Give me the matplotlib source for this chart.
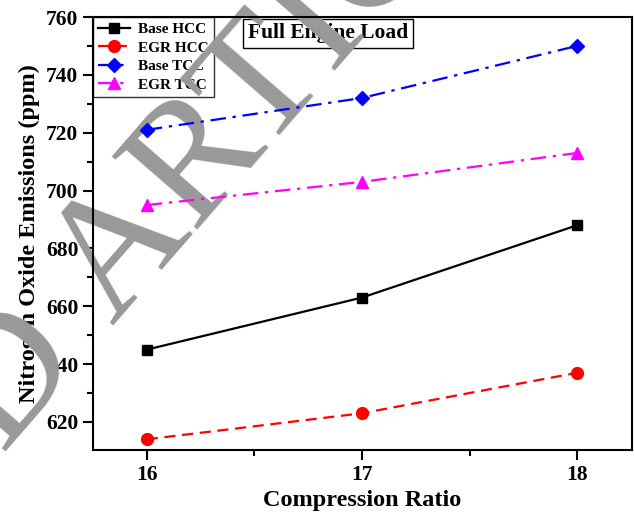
import matplotlib
matplotlib.use("Agg")
import matplotlib.pyplot as plt
from matplotlib.ticker import MultipleLocator

compression_ratio = [16, 17, 18]
base_hcc = [645, 663, 688]
egr_hcc = [614, 623, 637]
base_tcc = [721, 732, 750]
egr_tcc = [695, 703, 713]
series_labels = ["Base HCC", "EGR HCC", "Base TCC", "EGR TCC"]

plt.rcParams['font.family'] = ['Liberation Serif', 'DejaVu Serif']
plt.rcParams['font.weight'] = 'bold'

fig = plt.figure(figsize=(6.34, 5.17), dpi=100)
ax = fig.add_axes([93/634, 1-450/517, (632-93)/634, (450-17)/517])

ax.plot(compression_ratio, base_hcc, color='black', ls='-', lw=1.6, marker='s', ms=7.5, label=series_labels[0], zorder=3)
ax.plot(compression_ratio, egr_hcc, color='red', ls=(0, (5, 3)), lw=1.6, marker='o', ms=8.5, label=series_labels[1], zorder=3)
ax.plot(compression_ratio, base_tcc, color='blue', ls=(0, (7, 3, 1.5, 3)), lw=1.6, marker='D', ms=7.5, label=series_labels[2], zorder=3)
ax.plot(compression_ratio, egr_tcc, color='magenta', ls=(0, (7, 3, 1.5, 3)), lw=1.6, marker='^', ms=9, label=series_labels[3], zorder=3)

ax.set_xlim(15.75, 18.255)
ax.set_ylim(610.3, 760)
ax.set_xticks(compression_ratio)
ax.xaxis.set_minor_locator(MultipleLocator(0.5))
ax.yaxis.set_major_locator(MultipleLocator(20))
ax.yaxis.set_minor_locator(MultipleLocator(10))
ax.tick_params(which='major', direction='out', length=7, width=1.5, labelsize=15.5, right=False, top=False)
ax.tick_params(which='minor', direction='out', length=4, width=1.5, right=False, top=False)
for lab in ax.get_xticklabels() + ax.get_yticklabels():
    lab.set_fontweight('bold')
for s in ax.spines.values():
    s.set_linewidth(1.5)
    s.set_zorder(4)

ax.set_xlabel("Compression Ratio", fontsize=17.5, fontweight='bold', labelpad=4)
ax.set_ylabel("Nitrogen Oxide Emissions (ppm)", fontsize=17.5, fontweight='bold', labelpad=4)

leg = ax.legend(loc='upper left', frameon=True, fancybox=False,
                edgecolor='black', borderaxespad=0, handlelength=2.1, handletextpad=0.5,
                borderpad=0.35, labelspacing=0.32, prop={'weight': 'bold', 'size': 11})
leg.get_frame().set_linewidth(1.0)
leg.set_zorder(1.6)

ax.text(0.436, 0.962, "Full Engine Load", transform=ax.transAxes, ha='center', va='center',
        fontsize=15.5, fontweight='bold', zorder=1.6,
        bbox=dict(boxstyle='square,pad=0.22', facecolor='white', edgecolor='black', lw=1.0))

wm = dict(fontsize=124, color='#999999', fontweight='normal', rotation=49,
          rotation_mode='anchor', va='baseline', transform=fig.transFigure,
          zorder=2, clip_on=False)
ax.text(112/634, 1-326/517, "ARTICLE", ha='left', **wm)
ax.text(83/634, 1-357/517, "RETRACTED", ha='right', **wm)

fig.savefig("out.png", dpi=100)
